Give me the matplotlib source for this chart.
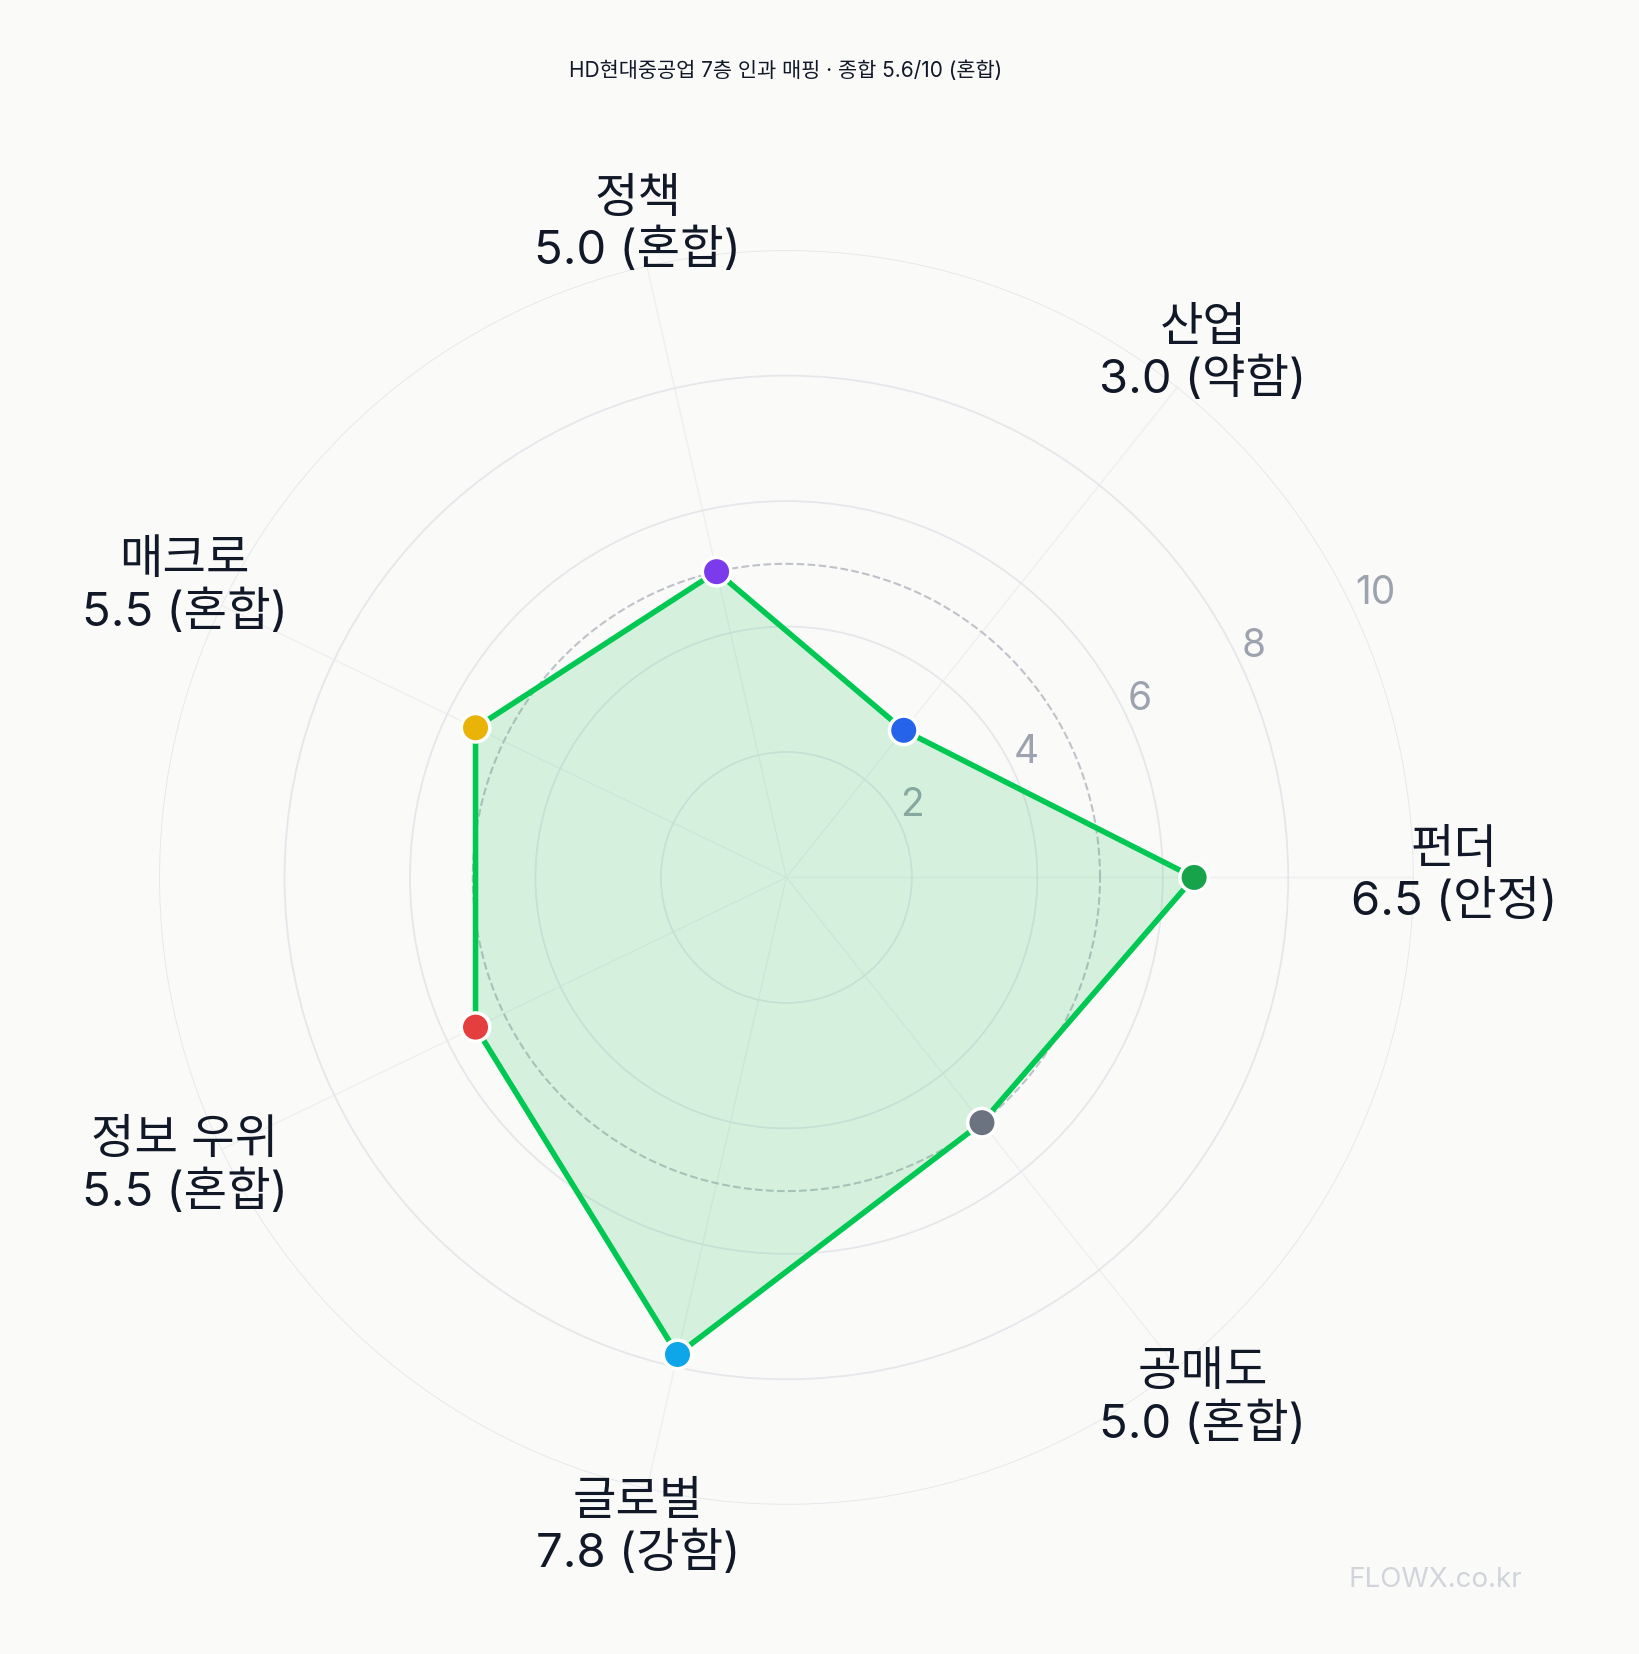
import numpy as np
import matplotlib
matplotlib.use('Agg')
from matplotlib import pyplot as plt

plt.rcParams['font.family'] = ['Inter', 'Noto Sans CJK KR', 'DejaVu Sans']

categories = ['펀더', '산업', '정책', '매크로', '정보 우위', '글로벌', '공매도']
scores = [6.5, 3.0, 5.0, 5.5, 5.5, 7.8, 5.0]
grades = ['안정', '약함', '혼합', '혼합', '혼합', '강함', '혼합']
point_colors = ['#16a34a', '#2563eb', '#7c3aed', '#eab308', '#e53e3e', '#0ea5e9', '#6b7280']
title = 'HD현대중공업 7층 인과 매핑 · 종합 5.6/10 (혼합)'
avg_ring = 5.0
rticks = [2, 4, 6, 8, 10]

bg = '#fafaf9'
fig = plt.figure(figsize=(16.4, 16.54), dpi=100, facecolor=bg)
ax = fig.add_axes([0.097, 0.09, 0.765, 0.759], projection='polar', facecolor=bg)

n = len(categories)
angles = np.arange(n) * 2 * np.pi / n
closed_a = np.append(angles, angles[0])
closed_v = np.append(scores, scores[0])

ax.set_ylim(0, 10)
ax.set_yticks(rticks)
ax.set_yticklabels([str(t) for t in rticks], fontsize=28, color='#9ca3af')
ax.set_rlabel_position(25)
ax.set_xticks(angles)
ax.set_xticklabels([])
ax.yaxis.grid(color='#e6e7eb', linewidth=1.3)
ax.xaxis.grid(color='#efefef', linewidth=1.0)
ax.spines['polar'].set_visible(False)

th = np.linspace(0, 2 * np.pi, 400)
ax.plot(th, np.full_like(th, avg_ring), ls='--', color='#bfc3c9', lw=1.5, zorder=2)

ax.fill(closed_a, closed_v, color='#22c55e', alpha=0.17, zorder=3)
ax.plot(closed_a, closed_v, color='#00c853', lw=4, zorder=4)
ax.scatter(angles, scores, s=420, c=point_colors, edgecolors='white', linewidths=2.5, zorder=5)

for a, c, v, g in zip(angles, categories, scores, grades):
    ax.text(a, 10.65, f'{c}\n{v:.1f} ({g})', ha='center', va='center',
            fontsize=34, color='#111827', linespacing=1.2)

fig.text(0.479, 0.957, title, ha='center', va='center', fontsize=15, color='#111827')
fig.text(0.875, 0.045, 'FLOWX.co.kr', ha='center', va='center', fontsize=20, color='#d1d5db')

fig.savefig('out.png', dpi=100, facecolor=bg)
